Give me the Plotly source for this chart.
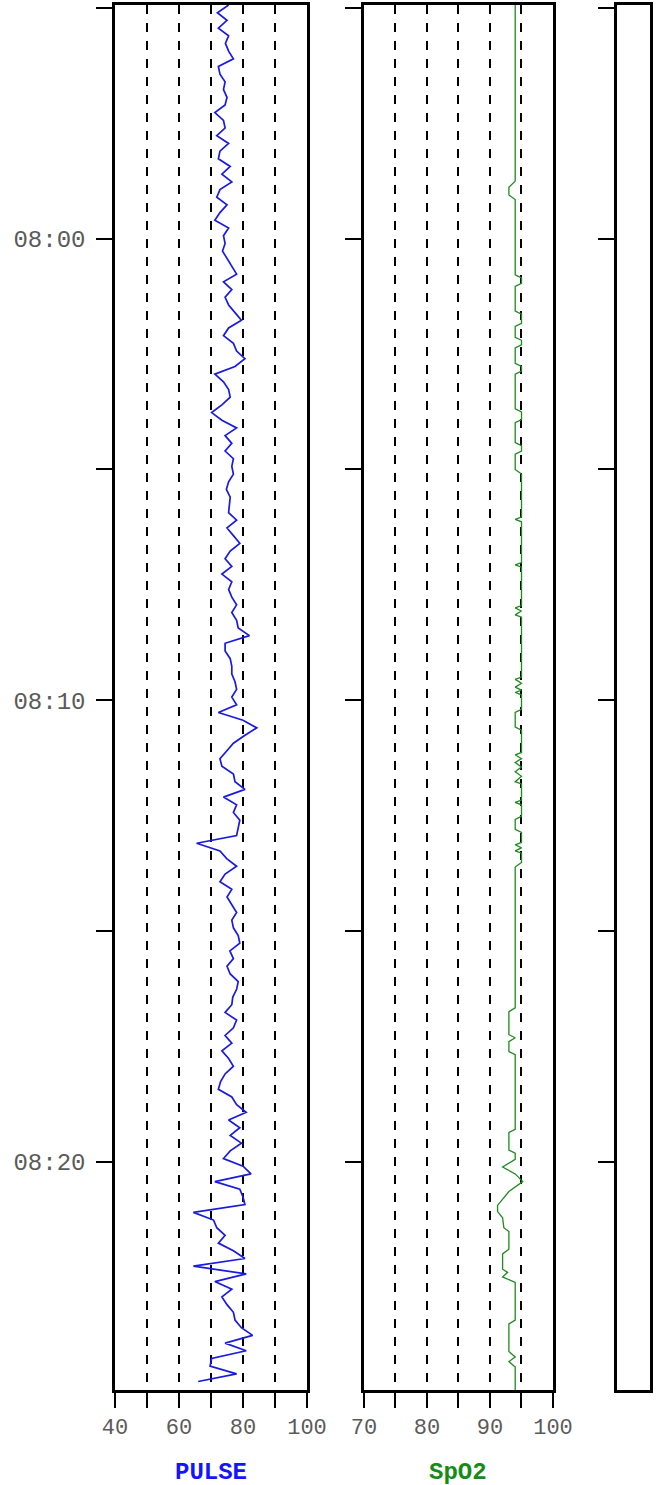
import pandas as pd
import plotly.graph_objects as go

# ---------------- data ----------------
BASE = pd.Timestamp("2024-01-01 07:55:00")
PULSE_START_S = -4          # seconds relative to 07:55:00
PULSE_STEP_S = 10           # sample interval (s)

pulse_values = [
    75.5, 72.0, 75.0, 72.3, 75.5, 74.5, 75.5, 77.0, 72.3, 72.8,
    74.4, 73.9, 75.0, 74.4, 71.2, 73.9, 74.4, 71.8, 75.5, 72.8,
    72.3, 76.0, 73.4, 76.5, 72.8, 71.8, 75.0, 72.8, 71.2, 75.5,
    73.9, 74.4, 73.6, 75.0, 76.5, 78.0, 73.9, 76.5, 74.4, 75.5,
    77.5, 79.5, 75.5, 73.9, 77.0, 78.0, 80.6, 77.5, 71.2, 73.9,
    75.5, 76.0, 73.4, 70.2, 73.4, 78.0, 74.4, 76.5, 74.4, 77.0,
    76.5, 77.0, 75.5, 74.8, 76.0, 75.8, 75.5, 78.0, 75.0, 77.0,
    79.0, 76.0, 74.4, 76.5, 73.4, 76.5, 75.5, 76.5, 78.0, 76.5,
    78.0, 78.5, 82.0, 74.4, 74.4, 76.0, 76.5, 76.5, 77.5, 78.0,
    76.5, 78.0, 72.3, 80.0, 84.3, 80.5, 77.0, 74.9, 72.8, 73.4,
    77.0, 77.5, 80.6, 73.9, 78.0, 77.0, 79.0, 78.5, 78.0, 65.5,
    72.8, 74.9, 78.0, 74.4, 72.8, 76.5, 75.0, 76.5, 78.0, 76.5,
    77.0, 78.5, 79.0, 75.9, 77.0, 75.0, 76.0, 78.5, 78.0, 76.8,
    76.5, 74.4, 78.0, 77.0, 74.4, 76.5, 73.4, 75.5, 77.0, 74.4,
    73.0, 72.3, 76.5, 78.0, 81.0, 75.5, 79.0, 76.0, 79.5, 76.0,
    73.9, 80.0, 82.5, 71.2, 79.0, 80.0, 80.6, 64.5, 70.8, 71.8,
    74.4, 72.3, 77.0, 80.6, 64.5, 81.0, 71.2, 76.5, 73.4, 75.0,
    77.0, 77.5, 79.5, 83.0, 74.4, 81.0, 70.2, 69.7, 78.0, 66.0,
]

# SpO2 change points: seconds relative to 07:55:00, and value
spo2_seconds = [
    -4, 225, 233, 243, 249,
    347, 351, 358, 362,
    394, 398, 410, 414,
    428, 432, 438, 442,
    462, 466, 472, 476,
    521, 525, 535, 539,
    565, 569, 576, 580,
    600, 606,
    662, 665, 668,
    721, 724, 727,
    777, 780, 784, 789, 792,
    870, 873, 878, 883, 887, 890, 893,
    912, 916, 935, 939,
    968, 971, 976, 981, 987, 993, 999, 1006, 1009,
    1030, 1033, 1036,
    1051, 1055, 1068, 1072,
    1085, 1088, 1092, 1096, 1099,
    1111, 1117,
    1300, 1305, 1335, 1339, 1344, 1357, 1361,
    1458, 1462, 1485, 1489, 1497, 1507, 1516, 1526, 1539, 1557,
    1565, 1573, 1586, 1591, 1614, 1620, 1640, 1644, 1650, 1657,
    1706, 1711, 1747, 1754, 1760, 1767, 1797,
]
spo2_values = [
    94, 94, 93, 93, 94,
    94, 95, 95, 94,
    94, 95, 95, 94,
    94, 95, 95, 94,
    94, 95, 95, 94,
    94, 95, 95, 94,
    94, 95, 95, 94,
    94, 95,
    95, 94, 95,
    95, 94, 95,
    95, 94, 95, 94, 95,
    95, 94, 95, 94, 95, 94, 95,
    95, 94, 94, 95,
    95, 94, 95, 94, 95, 94, 95, 94, 95,
    95, 94, 95,
    95, 94, 94, 95,
    95, 94, 95, 94, 95,
    95, 94,
    94, 93, 93, 94, 93, 93, 94,
    94, 93, 93, 94, 94, 92, 94, 95.2, 93, 91.2,
    91.2, 92, 92.2, 93, 93, 92, 92, 92.8, 92, 94,
    94, 93, 93, 94, 93, 94, 94,
]

pulse_ticks = [40, 50, 60, 70, 80, 90, 100]
pulse_ticktext = ["40", "", "60", "", "80", "", "100"]
spo2_ticks = [70, 75, 80, 85, 90, 95, 100]
spo2_ticktext = ["70", "", "80", "", "90", "", "100"]
time_ticks = ["07:55", "08:00", "08:05", "08:10", "08:15", "08:20", "08:25"]
time_ticktext = ["", "08:00", "", "08:10", "", "08:20", ""]
time_range = ["07:54:56", "08:24:57"]

# ---------------- build ----------------
def ts(hms):
    return pd.Timestamp(f"2024-01-01 {hms}")

pulse_t = [BASE + pd.Timedelta(seconds=PULSE_START_S + PULSE_STEP_S * i)
           for i in range(len(pulse_values))]
spo2_t = [BASE + pd.Timedelta(seconds=s) for s in spo2_seconds]

tick_dates = [ts(t) for t in time_ticks]
yrange = [ts(time_range[1]), ts(time_range[0])]   # reversed: time runs downward

MONO = "Liberation Mono, Courier New, monospace"
xtickfont = dict(family=MONO, size=22, color="#5a5a5a")
ytickfont = dict(family=MONO, size=24, color="#5a5a5a")

fig = go.Figure()
fig.add_trace(go.Scatter(x=pulse_values, y=pulse_t, mode="lines",
                         line=dict(color="#1a1ae0", width=1.7),
                         xaxis="x", yaxis="y", showlegend=False))
fig.add_trace(go.Scatter(x=spo2_values, y=spo2_t, mode="lines",
                         line=dict(color="#1f8a1f", width=1.3),
                         xaxis="x2", yaxis="y2", showlegend=False))
# empty third panel
fig.add_trace(go.Scatter(x=[], y=[], mode="lines", xaxis="x3", yaxis="y3",
                         showlegend=False))

frame = dict(showline=True, mirror=True, linecolor="black", linewidth=2.5,
             zeroline=False, fixedrange=True)

xcommon = dict(ticks="outside", ticklen=15, tickwidth=2, tickcolor="black",
               showgrid=True, gridcolor="black", griddash="dash", gridwidth=1.6,
               tickfont=xtickfont, **frame)

fig.update_layout(
    width=657, height=1485, autosize=False,
    margin=dict(l=115, r=7, t=5, b=95, autoexpand=False),
    paper_bgcolor="white", plot_bgcolor="white",
    xaxis=dict(domain=[0, 0.3589], range=[40, 100], tickvals=pulse_ticks,
               ticktext=pulse_ticktext, anchor="y", **xcommon),
    xaxis2=dict(domain=[0.4654, 0.8187], range=[70, 100], tickvals=spo2_ticks,
                ticktext=spo2_ticktext, anchor="y2", **xcommon),
    xaxis3=dict(domain=[0.9383, 1.0], range=[0, 1], showticklabels=False,
                ticks="", showgrid=False, anchor="y3", **frame),
)

for name, labels in (("yaxis", time_ticktext), ("yaxis2", [""] * 7), ("yaxis3", [""] * 7)):
    anchor = {"yaxis": "x", "yaxis2": "x2", "yaxis3": "x3"}[name]
    fig.update_layout(**{name: dict(
        type="date", range=yrange, tickvals=tick_dates, ticktext=labels,
        ticks="outside", ticklen=16, tickwidth=2, tickcolor="black",
        showgrid=False, anchor=anchor, tickfont=ytickfont,
        ticklabelstandoff=6, **frame)})

fig.add_annotation(text="<b>PULSE</b>", xref="x domain", yref="paper",
                   x=0.5, y=0, yanchor="middle", yshift=-82, showarrow=False,
                   font=dict(family="Courier New, Liberation Mono, monospace",
                             size=24, color="#1414ff"))
fig.add_annotation(text="<b>SpO2</b>", xref="x2 domain", yref="paper",
                   x=0.5, y=0, yanchor="middle", yshift=-82, showarrow=False,
                   font=dict(family="Courier New, Liberation Mono, monospace",
                             size=24, color="#168c16"))

fig.write_html(
    "out.html",
    config={"responsive": False, "displayModeBar": False},
    post_script="document.body.style.margin='0';document.body.style.overflow='hidden';",
)
